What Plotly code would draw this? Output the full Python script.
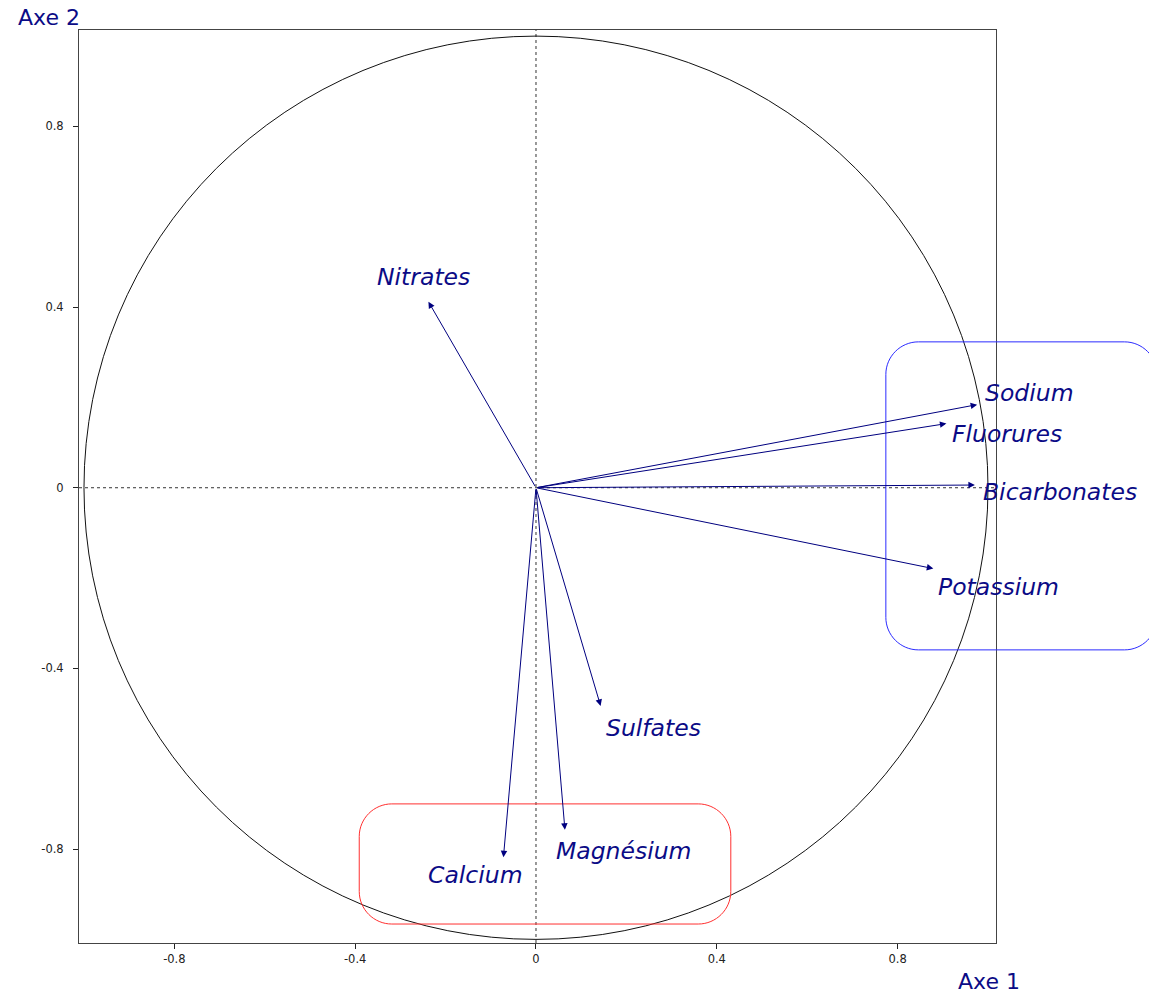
import plotly.graph_objects as go

# Correlation circle: loadings of each variable on factorial axes 1 and 2
variables = ["Nitrates", "Sodium", "Fluorures", "Bicarbonates", "Potassium",
             "Sulfates", "Magnésium", "Calcium"]
axe1 = [-0.238, 0.976, 0.908, 0.971, 0.879, 0.143, 0.064, -0.072]
axe2 = [0.412, 0.184, 0.142, 0.006, -0.179, -0.483, -0.757, -0.818]

tick_vals = [-0.8, -0.4, 0, 0.4, 0.8]
tick_text = ["-0.8", "-0.4", "0", "0.4", "0.8"]

# label placement relative to each arrow tip (pixels)
label_dx = [-53, 6, 4, 6, 3, 3, -11, -77]
label_dy = [25, 12, -10, -7, -18, -22, -21, -18]

X_RANGE = [-1.011, 1.0177]
Y_RANGE = [-1.008, 1.0135]

NAVY = "#0b0b86"
ARROW = "#00007f"

fig = go.Figure()

# invisible anchor trace at the tips
fig.add_trace(go.Scatter(x=axe1, y=axe2, mode="markers",
                         marker=dict(size=1, opacity=0), hoverinfo="skip",
                         showlegend=False))

shapes = []
# unit circle
shapes.append(dict(type="circle", xref="x", yref="y", x0=-1, y0=-1, x1=1, y1=1,
                   line=dict(color="#111111", width=1), layer="below"))
# dashed axes through the origin
shapes.append(dict(type="line", xref="x", yref="paper", x0=0, x1=0, y0=0, y1=1,
                   line=dict(color="#333333", width=1, dash="3px,3px"), layer="below"))
shapes.append(dict(type="line", xref="paper", yref="y", x0=0, x1=1, y0=0, y1=0,
                   line=dict(color="#333333", width=1, dash="3px,3px"), layer="below"))


def to_px(x):
    return (x - X_RANGE[0]) / (X_RANGE[1] - X_RANGE[0])


def to_py(y):
    return (y - Y_RANGE[0]) / (Y_RANGE[1] - Y_RANGE[0])


def rounded_box(x0, y0, x1, y1, r):
    """Rounded rectangle (data units) expressed as a paper-referenced SVG path."""
    a, b, c, d = to_px(x0), to_py(y0), to_px(x1), to_py(y1)
    rx = r / (X_RANGE[1] - X_RANGE[0])
    ry = r / (Y_RANGE[1] - Y_RANGE[0])
    k = 0.45  # cubic control offset giving a near-circular corner
    return (f"M {a + rx},{b} L {c - rx},{b} "
            f"C {c - rx * k},{b} {c},{b + ry * k} {c},{b + ry} "
            f"L {c},{d - ry} "
            f"C {c},{d - ry * k} {c - rx * k},{d} {c - rx},{d} "
            f"L {a + rx},{d} "
            f"C {a + rx * k},{d} {a},{d - ry * k} {a},{d - ry} "
            f"L {a},{b + ry} "
            f"C {a},{b + ry * k} {a + rx * k},{b} {a + rx},{b} Z")


# groups of variables
shapes.append(dict(type="path", xref="paper", yref="paper",
                   path=rounded_box(0.774, -0.359, 1.374, 0.323, 0.072),
                   line=dict(color="#2b2bff", width=1)))
shapes.append(dict(type="path", xref="paper", yref="paper",
                   path=rounded_box(-0.391, -0.966, 0.431, -0.700, 0.072),
                   line=dict(color="#ff3030", width=1)))

annotations = []
for name, x, y, dx, dy in zip(variables, axe1, axe2, label_dx, label_dy):
    annotations.append(dict(x=x, y=y, xref="x", yref="y", ax=0, ay=0,
                            axref="x", ayref="y", text="", showarrow=True,
                            arrowhead=2, arrowsize=1.3, arrowwidth=1,
                            arrowcolor=ARROW, standoff=0))
    annotations.append(dict(x=x, y=y, xref="x", yref="y", text=name,
                            showarrow=False, xanchor="left", yanchor="middle",
                            xshift=dx, yshift=dy,
                            font=dict(family="DejaVu Sans", size=23.5,
                                      color=NAVY, style="italic")))

annotations.append(dict(x=-0.069, y=1.0135, xref="paper", yref="paper",
                        text="Axe 2", showarrow=False, xanchor="left",
                        yanchor="middle",
                        font=dict(family="DejaVu Sans", size=22, color=NAVY)))
annotations.append(dict(x=0.9565, y=-0.0422, xref="paper", yref="paper",
                        text="Axe 1", showarrow=False, xanchor="left",
                        yanchor="middle",
                        font=dict(family="DejaVu Sans", size=22, color=NAVY)))

axis_common = dict(showgrid=False, zeroline=False, showline=True, mirror=True,
                   linecolor="#444444", linewidth=1, ticks="outside",
                   ticklen=5, tickcolor="#222222", tickvals=tick_vals,
                   ticktext=tick_text,
                   tickfont=dict(family="DejaVu Sans", size=11.5, color="#222222"))

fig.update_layout(
    width=1149, height=994,
    margin=dict(l=79, r=153, t=30, b=51),
    paper_bgcolor="white", plot_bgcolor="white",
    xaxis=dict(range=X_RANGE, **axis_common),
    yaxis=dict(range=Y_RANGE, ticklabelstandoff=7, **axis_common),
    shapes=shapes, annotations=annotations, showlegend=False,
)

fig.write_html("out.html")
